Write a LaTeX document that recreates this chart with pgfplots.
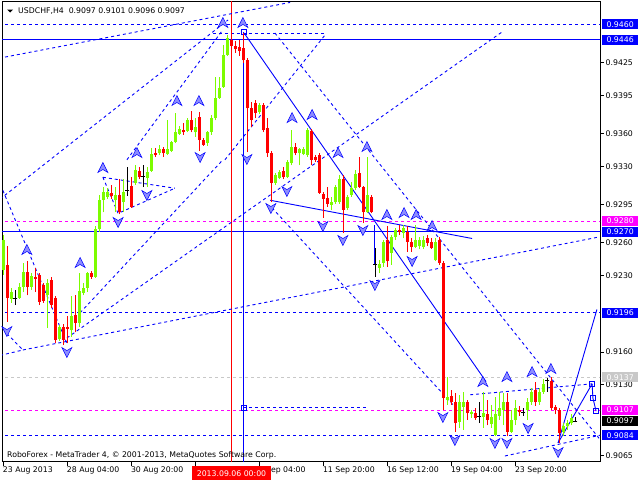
\documentclass[border=0pt]{standalone}
\usepackage{fontspec}
\setmainfont{DejaVu Sans}
\usepackage{pgfplots}
\pgfplotsset{compat=1.18}
\usepackage{pgfplotstable}

\definecolor{cbull}{RGB}{124,252,0}
\definecolor{cbear}{RGB}{255,0,0}
\definecolor{mtblue}{RGB}{0,0,255}
\definecolor{mtmag}{RGB}{255,0,255}
\definecolor{mtgrey}{RGB}{200,200,200}
\definecolor{arrfill}{RGB}{140,140,255}

\pgfdeclareplotmark{fup}{%
  \pgfpathmoveto{\pgfpoint{0bp}{5.5bp}}%
  \pgfpathlineto{\pgfpoint{5bp}{-4.5bp}}%
  \pgfpathlineto{\pgfpoint{0bp}{-1.5bp}}%
  \pgfpathlineto{\pgfpoint{-5bp}{-4.5bp}}%
  \pgfpathclose\pgfusepathqfillstroke}
\pgfdeclareplotmark{fdn}{%
  \pgfpathmoveto{\pgfpoint{0bp}{-5.5bp}}%
  \pgfpathlineto{\pgfpoint{5bp}{4.5bp}}%
  \pgfpathlineto{\pgfpoint{0bp}{1.5bp}}%
  \pgfpathlineto{\pgfpoint{-5bp}{4.5bp}}%
  \pgfpathclose\pgfusepathqfillstroke}

% bar index, open, high, low, close
\pgfplotstableread{
i o h l c
0 0.9235 0.9267 0.9231 0.9263
2 0.9209 0.9219 0.9205 0.9215
4 0.9210 0.9223 0.9209 0.9220
5 0.9220 0.9242 0.9215 0.9233
7 0.9220 0.9232 0.9217 0.9230
11 0.9212 0.9227 0.9182 0.9223
14 0.9172 0.9185 0.9170 0.9183
17 0.9180 0.9211 0.9174 0.9193
19 0.9187 0.9232 0.9183 0.9216
20 0.9214 0.9223 0.9212 0.9219
21 0.9219 0.9233 0.9215 0.9232
23 0.9229 0.9275 0.9228 0.9273
24 0.9273 0.9304 0.9270 0.9299
25 0.9299 0.9311 0.9288 0.9307
26 0.9302 0.9310 0.9300 0.9307
28 0.9299 0.9311 0.9288 0.9304
30 0.9297 0.9318 0.9288 0.9307
33 0.9315 0.9331 0.9313 0.9327
36 0.9319 0.9329 0.9311 0.9325
37 0.9326 0.9347 0.9325 0.9341
39 0.9342 0.9350 0.9340 0.9346
41 0.9341 0.9372 0.9340 0.9346
42 0.9344 0.9353 0.9343 0.9352
43 0.9352 0.9379 0.9351 0.9361
44 0.9360 0.9367 0.9359 0.9364
46 0.9362 0.9374 0.9361 0.9372
48 0.9361 0.9374 0.9357 0.9366
51 0.9351 0.9362 0.9349 0.9361
52 0.9361 0.9377 0.9359 0.9374
53 0.9374 0.9412 0.9372 0.9393
54 0.9393 0.9412 0.9392 0.9402
55 0.9403 0.9441 0.9402 0.9432
56 0.9432 0.9450 0.9431 0.9447
64 0.9380 0.9388 0.9378 0.9386
68 0.9315 0.9324 0.9313 0.9322
69 0.9319 0.9327 0.9318 0.9325
71 0.9320 0.9336 0.9319 0.9334
72 0.9333 0.9363 0.9331 0.9348
74 0.9342 0.9347 0.9331 0.9346
75 0.9341 0.9348 0.9340 0.9346
76 0.9340 0.9365 0.9339 0.9363
82 0.9295 0.9302 0.9290 0.9297
83 0.9297 0.9313 0.9296 0.9311
84 0.9297 0.9322 0.9296 0.9318
86 0.9292 0.9304 0.9290 0.9302
87 0.9304 0.9316 0.9302 0.9310
88 0.9310 0.9327 0.9308 0.9323
91 0.9288 0.9339 0.9287 0.9304
94 0.9237 0.9244 0.9232 0.9241
95 0.9242 0.9263 0.9238 0.9261
97 0.9251 0.9267 0.9240 0.9265
98 0.9265 0.9274 0.9263 0.9272
100 0.9269 0.9276 0.9264 0.9274
103 0.9256 0.9276 0.9255 0.9263
104 0.9257 0.9265 0.9254 0.9263
105 0.9256 0.9266 0.9254 0.9263
108 0.9244 0.9264 0.9243 0.9261
111 0.9116 0.9137 0.9112 0.9119
114 0.9096 0.9121 0.9091 0.9114
115 0.9110 0.9124 0.9089 0.9114
117 0.9103 0.9107 0.9100 0.9105
120 0.9101 0.9124 0.9091 0.9104
122 0.9094 0.9112 0.9091 0.9101
123 0.9084 0.9119 0.9083 0.9103
124 0.9102 0.9124 0.9098 0.9109
125 0.9107 0.9123 0.9093 0.9114
127 0.9087 0.9107 0.9086 0.9098
128 0.9098 0.9116 0.9093 0.9109
131 0.9107 0.9118 0.9098 0.9114
132 0.9114 0.9127 0.9112 0.9124
134 0.9114 0.9127 0.9112 0.9124
135 0.9124 0.9135 0.9122 0.9131
140 0.9087 0.9095 0.9083 0.9092
141 0.9092 0.9098 0.9089 0.9095
142 0.9095 0.9103 0.9093 0.9100
}\bull

\pgfplotstableread{
i o h l c
1 0.9240 0.9257 0.9188 0.9210
6 0.9233 0.9243 0.9212 0.9220
8 0.9229 0.9237 0.9215 0.9227
9 0.9231 0.9232 0.9203 0.9206
10 0.9221 0.9223 0.9205 0.9207
12 0.9226 0.9229 0.9200 0.9203
13 0.9210 0.9211 0.9168 0.9171
15 0.9183 0.9186 0.9167 0.9171
16 0.9183 0.9193 0.9168 0.9181
18 0.9194 0.9212 0.9178 0.9187
22 0.9232 0.9234 0.9227 0.9229
27 0.9306 0.9313 0.9300 0.9303
29 0.9304 0.9318 0.9286 0.9288
32 0.9312 0.9320 0.9292 0.9293
34 0.9326 0.9329 0.9318 0.9320
38 0.9342 0.9347 0.9339 0.9340
40 0.9346 0.9348 0.9339 0.9342
45 0.9363 0.9370 0.9359 0.9361
47 0.9372 0.9381 0.9361 0.9363
49 0.9375 0.9380 0.9344 0.9354
50 0.9354 0.9356 0.9349 0.9350
57 0.9446 0.9450 0.9436 0.9440
58 0.9440 0.9445 0.9434 0.9437
59 0.9439 0.9446 0.9431 0.9436
60 0.9438 0.9452 0.9425 0.9427
61 0.9427 0.9429 0.9343 0.9383
62 0.9383 0.9389 0.9366 0.9372
63 0.9388 0.9391 0.9374 0.9379
65 0.9386 0.9388 0.9361 0.9363
66 0.9365 0.9374 0.9339 0.9342
67 0.9342 0.9344 0.9297 0.9315
70 0.9326 0.9329 0.9318 0.9320
73 0.9348 0.9351 0.9340 0.9342
77 0.9362 0.9364 0.9331 0.9336
78 0.9339 0.9340 0.9334 0.9336
79 0.9340 0.9342 0.9305 0.9306
80 0.9305 0.9307 0.9283 0.9300
81 0.9301 0.9311 0.9293 0.9296
85 0.9318 0.9322 0.9269 0.9290
89 0.9324 0.9339 0.9310 0.9311
90 0.9311 0.9312 0.9278 0.9288
92 0.9302 0.9304 0.9287 0.9288
96 0.9263 0.9275 0.9238 0.9243
99 0.9272 0.9276 0.9267 0.9270
101 0.9270 0.9275 0.9252 0.9261
102 0.9261 0.9264 0.9252 0.9256
106 0.9264 0.9267 0.9257 0.9260
107 0.9261 0.9264 0.9254 0.9255
109 0.9263 0.9265 0.9240 0.9242
110 0.9242 0.9243 0.9107 0.9118
112 0.9120 0.9125 0.9112 0.9114
113 0.9114 0.9123 0.9087 0.9095
116 0.9114 0.9116 0.9098 0.9104
118 0.9104 0.9109 0.9098 0.9100
121 0.9103 0.9116 0.9093 0.9098
126 0.9114 0.9123 0.9083 0.9087
129 0.9107 0.9111 0.9102 0.9105
133 0.9125 0.9133 0.9111 0.9114
137 0.9134 0.9137 0.9107 0.9109
138 0.9110 0.9112 0.9103 0.9107
139 0.9107 0.9109 0.9077 0.9086
}\bear

\pgfplotstableread{
i o h l c
3 0.9209 0.9217 0.9203 0.9209
31 0.9308 0.9329 0.9303 0.9308
35 0.9321 0.9331 0.9311 0.9321
93 0.9240 0.9255 0.9229 0.9240
119 0.9101 0.9114 0.9095 0.9101
130 0.9105 0.9109 0.9102 0.9105
136 0.9134 0.9136 0.9124 0.9134
143 0.9097 0.9101 0.9096 0.9097
}\doji

\tikzset{
  mtdash/.style={mtblue, line width=0.9bp, dash pattern=on 3bp off 3bp},
  mtsolid/.style={mtblue, line width=0.9bp},
}

\begin{document}
\begin{tikzpicture}[font=\fontsize{7.8}{9}\selectfont]
\path[use as bounding box] (0,0) rectangle (640bp,480bp);
\begin{axis}[
    at={(2bp,18bp)}, anchor=south west,
    scale only axis, width=598bp, height=460bp,
    xmin=-0.325, xmax=149.175,
    ymin=0.90595, ymax=0.94804,
    clip mode=individual,
    axis line style={black, line width=1bp},
    tick align=outside,
    major tick length=4bp,
    tick style={black, line width=1bp},
    xtick pos=lower, ytick pos=right,
    xtick={0,16,32,48,64,80,96,112,128},
    xticklabels={23 Aug 2013, 28 Aug 04:00, 30 Aug 20:00, {}, {},
                  11 Sep 20:00, 16 Sep 12:00, 19 Sep 04:00, 23 Sep 20:00},
    xticklabel style={anchor=north west, inner sep=1bp, xshift=-1.5bp},
    ytick={0.9065,0.9130,0.9160,0.9230,0.9260,0.9295,0.9330,0.9360,0.9395,0.9425},
    yticklabels={0.9065,0.9130,0.9160,0.9230,0.9260,0.9295,0.9330,0.9360,0.9395,0.9425},
    yticklabel style={inner sep=1.5bp},
    tick label style={font=\fontsize{7.8}{9}\selectfont},
    scaled y ticks=false,
]

% horizontal levels
\addplot[mtdash] coordinates {(-1,0.9460) (150,0.9460)};
\addplot[mtsolid] coordinates {(-1,0.9446) (150,0.9446)};
\addplot[mtmag, line width=0.9bp, dash pattern=on 3bp off 3bp] coordinates {(-1,0.9280) (150,0.9280)};
\addplot[mtsolid] coordinates {(-1,0.9270) (150,0.9270)};
\addplot[mtdash] coordinates {(-1,0.9196) (150,0.9196)};
\addplot[mtgrey, line width=0.9bp, dash pattern=on 3bp off 3bp] coordinates {(-1,0.9137) (150,0.9137)};
\addplot[mtmag, line width=0.9bp, dash pattern=on 3bp off 3bp] coordinates {(-1,0.9107) (150,0.9107)};
\addplot[mtdash] coordinates {(-1,0.9084) (150,0.9084)};
\addplot[mtdash] coordinates {(52.4,0.9452) (80.9,0.9452)};
\addplot[mtdash] coordinates {(60.0,0.9109) (90.7,0.9109)};

% vertical markers
\addplot[cbear, line width=1.4bp] coordinates {(57.05,0.9000) (57.05,0.9500)};
\addplot[mtblue, line width=1.4bp] coordinates {(60.05,0.9453) (60.05,0.9000)};

% dashed trend lines
\addplot[mtdash] coordinates {(0.43,0.9430) (71.7,0.9480)};
\addplot[mtdash] coordinates {(-0.83,0.9300) (56.2,0.9464)};
\addplot[mtdash] coordinates {(30.9,0.9336) (54.9,0.9455)};
\addplot[mtdash] coordinates {(19.2,0.9196) (54.9,0.9336)};
\addplot[mtdash] coordinates {(67.9,0.9452) (149.2,0.9080)};
\addplot[mtdash] coordinates {(15.9,0.9173) (124.7,0.9453)};
\addplot[mtdash] coordinates {(4.9,0.9162) (148.4,0.9265)};
\addplot[mtdash] coordinates {(55.4,0.9336) (80.4,0.9450)};
\addplot[mtdash] coordinates {(-0.1,0.9308) (15.9,0.9168)};
\addplot[mtdash] coordinates {(-0.8,0.9157) (4.9,0.9162)};
\addplot[mtdash] coordinates {(0.9,0.9177) (4.9,0.9162)};
\addplot[mtdash] coordinates {(24.9,0.9320) (42.9,0.9310)};
\addplot[mtdash] coordinates {(24.9,0.9320) (28.7,0.9287) (42.9,0.9310)};
\addplot[mtdash] coordinates {(67.2,0.9292) (112.4,0.9112)};
\addplot[mtdash] coordinates {(125.4,0.9065) (149.2,0.9084)};
\addplot[mtdash] coordinates {(116.7,0.9121) (147.2,0.9131)};

% solid lines
\addplot[mtsolid] coordinates {(60.2,0.9452) (120.7,0.9133)};
\addplot[mtsolid] coordinates {(66.7,0.9299) (117.2,0.9264)};
\addplot[mtsolid] coordinates {(92.9,0.9276) (92.9,0.9240)};
\addplot[mtsolid] coordinates {(138.7,0.9077) (148.4,0.9199)};
\addplot[mtsolid] coordinates {(138.7,0.9077) (147.2,0.9131)};
\addplot[mtsolid, mark=square, mark size=2.5bp, mark options={solid, fill=white}]
  coordinates {(147.2,0.9131) (147.4,0.9118) (148.2,0.9106)};
\addplot[mtsolid, only marks, mark=square, mark size=2.5bp, mark options={fill=white}]
  coordinates {(60.1,0.9453) (60.1,0.9109)};

% candles: wicks
\addplot[draw=none, error bars/.cd, y dir=plus, y explicit, error mark=none,
  error bar style={draw=cbull, solid, line width=1bp}]
  table[x=i, y=l, y error expr=\thisrow{h}-\thisrow{l}] {\bull};
\addplot[draw=none, error bars/.cd, y dir=plus, y explicit, error mark=none,
  error bar style={draw=cbear, solid, line width=1bp}]
  table[x=i, y=l, y error expr=\thisrow{h}-\thisrow{l}] {\bear};
\addplot[draw=none, error bars/.cd, y dir=plus, y explicit, error mark=none,
  error bar style={draw=black, solid, line width=1bp}]
  table[x=i, y=l, y error expr=\thisrow{h}-\thisrow{l}] {\doji};
% candles: bodies
\addplot[draw=none, error bars/.cd, y dir=plus, y explicit, error mark=none,
  error bar style={draw=cbull, solid, line width=3bp}]
  table[x=i, y=o, y error expr=\thisrow{c}-\thisrow{o}] {\bull};
\addplot[draw=none, error bars/.cd, y dir=plus, y explicit, error mark=none,
  error bar style={draw=cbear, solid, line width=3bp}]
  table[x=i, y=c, y error expr=\thisrow{o}-\thisrow{c}] {\bear};
\addplot[only marks, mark=-, mark size=2bp, mark options={black, line width=1bp}]
  table[x=i, y=o] {\doji};

% fractal arrows
\addplot[only marks, mark=fup, mark options={fill=arrfill, draw=mtblue, line width=0.5bp}]
  coordinates {(54.9,0.94612) (59.9,0.94612) (43.4,0.93898) (48.9,0.93898)
  (33.4,0.93422) (24.9,0.93285) (5.9,0.92535) (19.2,0.92416) (72.2,0.93742)
  (77.2,0.93770) (83.7,0.93422) (90.9,0.93477) (95.9,0.92855) (100.2,0.92873)
  (103.2,0.92855) (107.2,0.92754) (119.9,0.91327) (125.9,0.91372)
  (132.2,0.91418) (136.9,0.91446)};
\addplot[only marks, mark=fdn, mark options={fill=arrfill, draw=mtblue, line width=0.5bp}]
  coordinates {(49.2,0.93385) (60.9,0.93367) (28.7,0.92791) (35.9,0.93038)
  (66.9,0.92919) (70.9,0.93074) (0.9,0.91793) (15.9,0.91601) (79.9,0.92754)
  (84.9,0.92626) (89.9,0.92717) (92.9,0.92214) (102.2,0.92434) (109.9,0.91006)
  (112.9,0.90796) (122.9,0.90769) (125.9,0.90769) (131.2,0.90906)
  (138.7,0.90686)};

% anchors for price boxes and texts
\coordinate (p9460) at (axis cs:149.175,0.9460);
\coordinate (p9446) at (axis cs:149.175,0.9446);
\coordinate (p9280) at (axis cs:149.175,0.9280);
\coordinate (p9270) at (axis cs:149.175,0.9270);
\coordinate (p9196) at (axis cs:149.175,0.9196);
\coordinate (p9137) at (axis cs:149.175,0.9137);
\coordinate (p9107) at (axis cs:149.175,0.9107);
\coordinate (p9097) at (axis cs:149.175,0.9097);
\coordinate (p9084) at (axis cs:149.175,0.9084);
\coordinate (dbox) at (axis cs:57.05,0.90595);
\coordinate (t64) at (axis cs:64,0.90595);
\coordinate (ttl) at (rel axis cs:0.0268,0.9804);
\coordinate (tri) at (rel axis cs:0.0134,0.9804);
\coordinate (copy) at (rel axis cs:0.0084,0.0152);
\end{axis}

\tikzset{pbox/.style={anchor=west, xshift=1.7bp, inner sep=0pt, minimum width=36.5bp,
  minimum height=10bp, text=white, font=\fontsize{7.8}{9}\selectfont}}
\node[pbox, fill=mtblue] at (p9460) {0.9460};
\node[pbox, fill=mtblue] at (p9446) {0.9446};
\node[pbox, fill=mtmag] at (p9280) {0.9280};
\node[pbox, fill=mtblue] at (p9270) {0.9270};
\node[pbox, fill=mtblue] at (p9196) {0.9196};
\node[pbox, fill=mtgrey] at (p9137) {0.9137};
\node[pbox, fill=mtmag] at (p9107) {0.9107};
\node[pbox, fill=black] at (p9097) {0.9097};
\node[pbox, fill=mtblue] at (p9084) {0.9084};
\draw[black, line width=1bp] (t64) -- ++(0,-4bp);
\node[anchor=north west, inner sep=1bp, xshift=10.5bp, yshift=-4bp] at (t64) {ep 04:00};
\node[anchor=north, yshift=-4bp, inner sep=0pt, minimum width=79bp, minimum height=14bp,
  fill=cbear, text=white] at (dbox) {2013.09.06 00:00};
\node[anchor=west, inner sep=0pt] at (ttl) {USDCHF,H4\ \ 0.9097 0.9101 0.9096 0.9097};
\fill[black] ([xshift=-3bp,yshift=1.5bp]tri) -- ([xshift=3bp,yshift=1.5bp]tri) -- ([yshift=-1.5bp]tri) -- cycle;
\node[anchor=west, inner sep=0pt] at (copy) {RoboForex - MetaTrader 4, © 2001-2013, MetaQuotes Software Corp.};
\end{tikzpicture}
\end{document}
